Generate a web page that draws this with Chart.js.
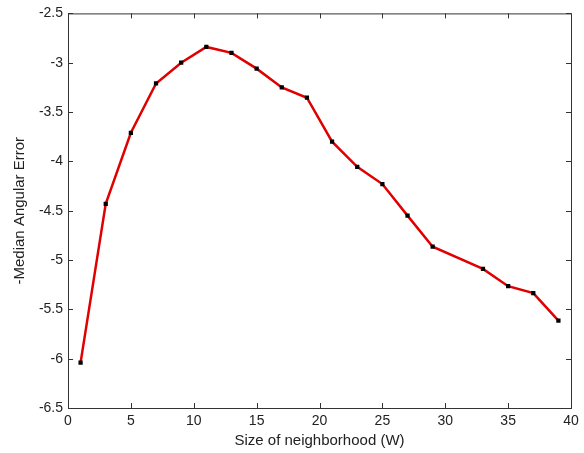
<!DOCTYPE html>
<html lang="en">
<head>
    <meta charset="UTF-8">
    <title>Median Angular Error vs neighborhood size</title>
    <script src="https://cdn.jsdelivr.net/npm/chart.js"></script>
    <style>
        body {
            margin: 0;
            padding: 0;
            background: #fff;
        }
        #wrap {
            width: 584px;
            height: 453px;
        }
    </style>
</head>
<body>
    <div id="wrap"><canvas id="errChart" width="584" height="453"></canvas></div>

    <script>
        const windowSizes = [1, 3, 5, 7, 9, 11, 13, 15, 17, 19, 21, 23, 25, 27, 29, 33, 35, 37, 39];
        const negMedianError = [-6.04, -4.43, -3.71, -3.21, -3.0, -2.84, -2.90, -3.06, -3.25, -3.355,
                                -3.80, -4.055, -4.23, -4.55, -4.865, -5.09, -5.265, -5.335, -5.615];
        const xTicks = [0, 5, 10, 15, 20, 25, 30, 35, 40];
        const yTicks = [-6.5, -6, -5.5, -5, -4.5, -4, -3.5, -3, -2.5];

        const axisColor = '#333';
        const textColor = '#222';

        // box round the plot with inward ticks on every side, like matlab
        const boxPlugin = {
            id: 'box',
            afterDraw(chart) {
                const { ctx, chartArea: a, scales } = chart;
                const len = 5;
                ctx.save();
                ctx.strokeStyle = axisColor;
                ctx.lineWidth = 1;
                ctx.strokeRect(a.left + 0.5, a.top + 0.5, a.right - a.left, a.bottom - a.top);
                ctx.beginPath();
                xTicks.forEach(v => {
                    const px = Math.round(scales.x.getPixelForValue(v)) + 0.5;
                    ctx.moveTo(px, a.bottom); ctx.lineTo(px, a.bottom - len);
                    ctx.moveTo(px, a.top); ctx.lineTo(px, a.top + len);
                });
                yTicks.forEach(v => {
                    const py = Math.round(scales.y.getPixelForValue(v)) + 0.5;
                    ctx.moveTo(a.left, py); ctx.lineTo(a.left + len, py);
                    ctx.moveTo(a.right, py); ctx.lineTo(a.right - len, py);
                });
                ctx.stroke();
                ctx.restore();
            }
        };

        const tickFont = { family: 'Arial, "Liberation Sans", sans-serif', size: 14 };
        const titleFont = { family: 'Arial, "Liberation Sans", sans-serif', size: 15 };

        new Chart(document.getElementById('errChart'), {
            type: 'line',
            data: {
                datasets: [{
                    data: windowSizes.map((w, i) => ({ x: w, y: negMedianError[i] })),
                    borderColor: '#e00000',
                    borderWidth: 2.5,
                    tension: 0,
                    pointStyle: 'rect',
                    pointRadius: 3,
                    pointBackgroundColor: '#000',
                    pointBorderColor: '#000',
                    pointBorderWidth: 0
                }]
            },
            options: {
                responsive: false,
                animation: false,
                layout: { padding: { left: 0, top: 12, right: 13, bottom: 0 } },
                plugins: {
                    legend: { display: false },
                    tooltip: { enabled: false }
                },
                scales: {
                    x: {
                        type: 'linear',
                        min: 0,
                        max: 40,
                        afterBuildTicks: s => { s.ticks = xTicks.map(v => ({ value: v })); },
                        afterFit: s => { s.height = 45; },
                        grid: { display: false, drawTicks: false },
                        border: { display: false },
                        ticks: { color: textColor, font: tickFont, padding: 5, maxRotation: 0 },
                        title: {
                            display: true,
                            text: 'Size of neighborhood (W)',
                            color: textColor,
                            font: titleFont,
                            padding: { top: 0, bottom: 3 }
                        }
                    },
                    y: {
                        min: -6.5,
                        max: -2.5,
                        afterBuildTicks: s => { s.ticks = yTicks.map(v => ({ value: v })); },
                        afterFit: s => { s.width = 68; },
                        grid: { display: false, drawTicks: false },
                        border: { display: false },
                        ticks: { color: textColor, font: tickFont, padding: 5, callback: v => String(v) },
                        title: {
                            display: true,
                            text: '-Median Angular Error',
                            color: textColor,
                            font: titleFont,
                            padding: { top: 11, bottom: 0 }
                        }
                    }
                }
            },
            plugins: [boxPlugin]
        });
    </script>
</body>
</html>
